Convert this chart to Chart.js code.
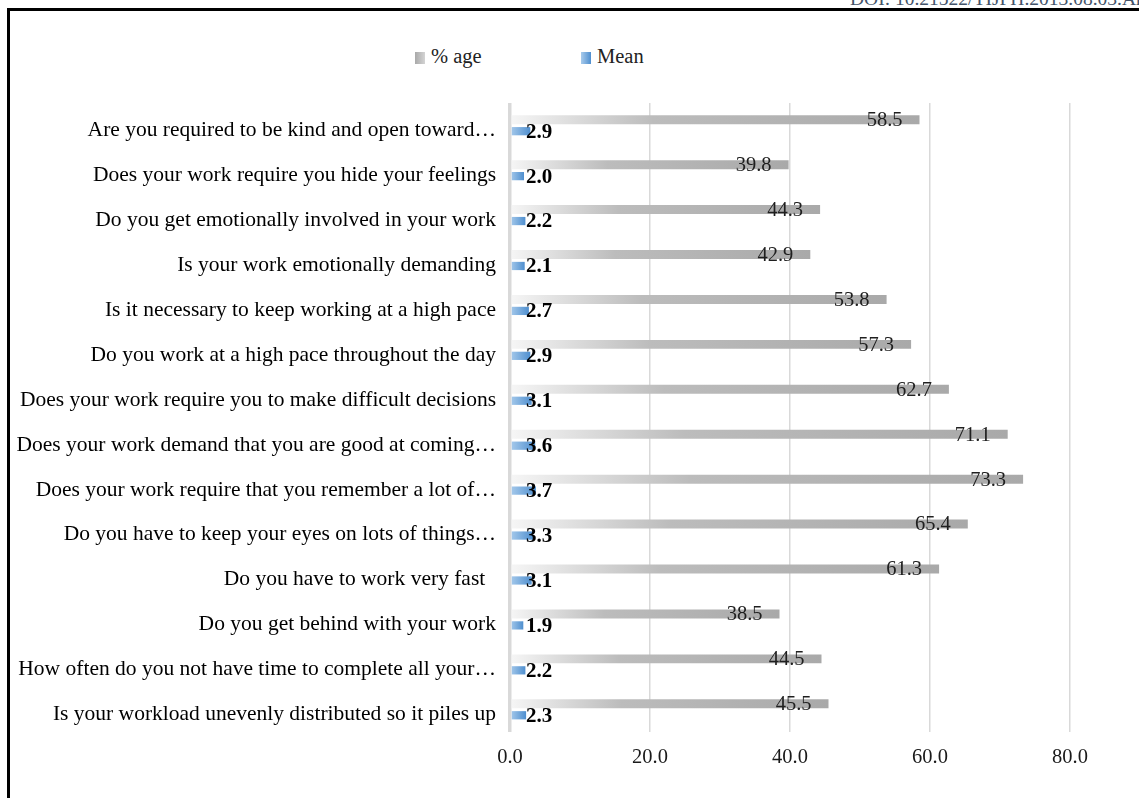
<!DOCTYPE html>
<html>
<head>
<meta charset="utf-8">
<script src="https://cdn.jsdelivr.net/npm/chart.js@4"></script>
<style>
  html, body { margin: 0; padding: 0; background: #fff; overflow: hidden; }
  #wrap { position: relative; width: 1139px; height: 798px; }
  #frame { position: absolute; left: 7px; top: 8px; width: 1200px; height: 900px;
           border-top: 3px solid #000; border-left: 3px solid #000; box-sizing: border-box; }
  #doi { position: absolute; left: 850px; top: -12px; font: 19.5px "Liberation Serif", "Times New Roman", serif;
         color: #44546a; white-space: nowrap; }
  .leg { position: absolute; top: 45px; font: 20.5px "Liberation Serif", "Times New Roman", serif; color: #222; }
  .sw { display: inline-block; width: 10px; height: 12px; margin-right: 6px; vertical-align: -1px; }
  canvas { position: absolute; left: 0; top: 0; }
</style>
</head>
<body>
<div id="wrap">
  <div id="doi">DOI: 10.21522/TIJPH.2013.08.03.Art</div>
  <div id="frame"></div>
  <div class="leg" style="left:415px"><span class="sw" style="background:linear-gradient(to right,#a9a9a9,#d4d4d4)"></span>% age</div>
  <div class="leg" style="left:581px"><span class="sw" style="background:linear-gradient(to right,#a8cbec,#4f8fcf)"></span>Mean</div>
  <canvas id="chart" width="1139" height="798"></canvas>
</div>
<script>
const questions = [
  "Are you required to be kind and open toward\u2026",
  "Does your work require you hide your feelings",
  "Do you get emotionally involved in your work",
  "Is your work emotionally demanding",
  "Is it necessary to keep working at a high pace",
  "Do you work at a high pace throughout the day",
  "Does your work require you to make difficult decisions",
  "Does your work demand that you are good at coming\u2026",
  "Does your work require that you remember a lot of\u2026",
  "Do you have to keep your eyes on lots of things\u2026",
  "Do you have to work very fast  ",
  "Do you get behind with your work",
  "How often do you not have time to complete all your\u2026",
  "Is your workload unevenly distributed so it piles up"
];
const percentAge = [58.5, 39.8, 44.3, 42.9, 53.8, 57.3, 62.7, 71.1, 73.3, 65.4, 61.3, 38.5, 44.5, 45.5];
const meanScore = [2.9, 2.0, 2.2, 2.1, 2.7, 2.9, 3.1, 3.6, 3.7, 3.3, 3.1, 1.9, 2.2, 2.3];
const xTicks = [0, 20, 40, 60, 80];

const serif = '"Liberation Serif", "Times New Roman", serif';

// excel style gradient fill, computed per bar from the x scale
function barGradient(ctx, stops, fallback) {
  const chart = ctx.chart;
  if (ctx.type !== 'data' || !chart.chartArea || !chart.scales.x) return fallback;
  const x0 = chart.scales.x.getPixelForValue(0);
  const x1 = chart.scales.x.getPixelForValue(ctx.raw);
  if (!isFinite(x0) || !isFinite(x1) || x1 - x0 < 1) return fallback;
  const g = chart.ctx.createLinearGradient(x0, 0, x1, 0);
  stops.forEach(s => g.addColorStop(s[0], s[1]));
  return g;
}

const labelPlugin = {
  id: 'barLabels',
  afterDatasetsDraw(chart) {
    const c = chart.ctx;
    const x0 = chart.scales.x.getPixelForValue(0);
    c.save();
    c.textBaseline = 'middle';
    chart.getDatasetMeta(0).data.forEach((bar, i) => {
      c.font = '20.5px ' + serif;
      c.fillStyle = '#1f1f1f';
      c.textAlign = 'right';
      c.fillText(percentAge[i].toFixed(1), bar.x - 17, bar.y + 1);
    });
    chart.getDatasetMeta(1).data.forEach((bar, i) => {
      c.font = 'bold 21px ' + serif;
      c.fillStyle = '#000';
      c.textAlign = 'left';
      c.fillText(meanScore[i].toFixed(1), x0 + 16, bar.y + 1);
    });
    c.restore();
  }
};

new Chart(document.getElementById('chart'), {
  type: 'bar',
  data: {
    labels: questions,
    datasets: [{
      label: '% age',
      data: percentAge,
      backgroundColor: (ctx) => barGradient(ctx, [[0, '#f6f6f6'], [0.35, '#bcbcbc'], [1, '#a9a9a9']], '#ababab'),
      categoryPercentage: 0.51,
      barPercentage: 0.78
    }, {
      label: 'Mean',
      data: meanScore,
      backgroundColor: (ctx) => barGradient(ctx, [[0, '#a8cbec'], [1, '#4f8fcf']], '#5b9bd5'),
      categoryPercentage: 0.51,
      barPercentage: 0.72
    }]
  },
  options: {
    indexAxis: 'y',
    responsive: false,
    animation: false,
    layout: { padding: { left: 10, right: 69, top: 103, bottom: 26 } },
    plugins: {
      legend: { display: false },
      tooltip: { enabled: false }
    },
    scales: {
      x: {
        min: 0,
        max: 80,
        afterBuildTicks: (scale) => { scale.ticks = xTicks.map(v => ({ value: v })); },
        afterFit: (scale) => { scale.height = 40; },
        grid: {
          color: '#d9d9d9',
          lineWidth: (c) => (c.tick && c.tick.value === 0 ? 3.5 : 1.5),
          drawTicks: false
        },
        border: { display: false },
        ticks: {
          padding: 13,
          color: '#1a1a1a',
          font: { family: serif, size: 20.5 },
          callback: (v) => Number(v).toFixed(1)
        }
      },
      y: {
        afterFit: (scale) => { scale.width = 500; },
        grid: { display: false },
        border: { display: false },
        ticks: {
          padding: 6,
          labelOffset: 5,
          color: '#000',
          font: { family: serif, size: 21.5 }
        }
      }
    }
  },
  plugins: [labelPlugin]
});
</script>
</body>
</html>
